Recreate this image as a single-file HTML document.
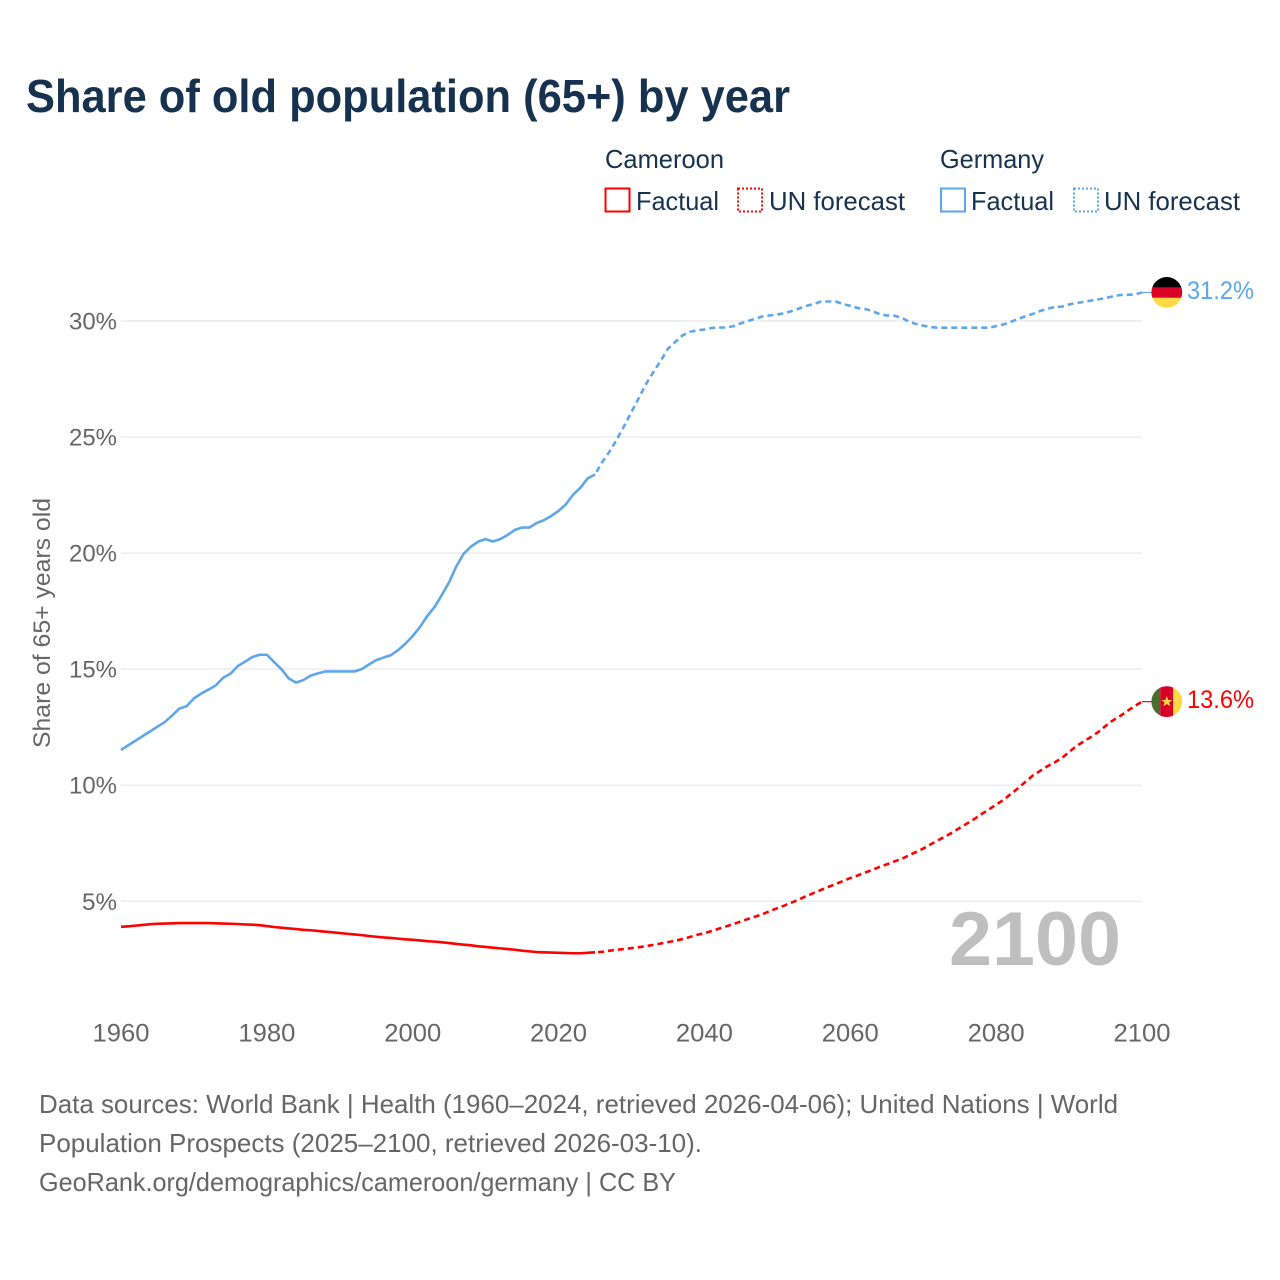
<!DOCTYPE html>
<html lang="en">
<head>
<meta charset="utf-8">
<title>Share of old population (65+) by year</title>
<style>
html,body{margin:0;padding:0;background:#fff;}
svg{display:block;font-family:"Liberation Sans",sans-serif;}
</style>
</head>
<body>
<svg id="chart" xmlns="http://www.w3.org/2000/svg" width="1280" height="1280" viewBox="0 0 1280 1280">
  <rect x="0" y="0" width="1280" height="1280" fill="#ffffff"/>
  <text x="26" y="112" font-size="46" font-weight="700" fill="#17324f" textLength="764" lengthAdjust="spacingAndGlyphs">Share of old population (65+) by year</text>

  <g font-size="26" fill="#17324f">
    <text x="605" y="168" textLength="119" lengthAdjust="spacingAndGlyphs">Cameroon</text>
    <rect x="605.5" y="188.5" width="24" height="23" fill="none" stroke="#ff0000" stroke-width="2"/>
    <text x="636" y="210" textLength="83" lengthAdjust="spacingAndGlyphs">Factual</text>
    <rect x="738" y="188.5" width="24" height="23" fill="none" stroke="#ff0000" stroke-width="2" stroke-dasharray="2 2"/>
    <text x="769" y="210" textLength="136" lengthAdjust="spacingAndGlyphs">UN forecast</text>
    <text x="940" y="168" textLength="104" lengthAdjust="spacingAndGlyphs">Germany</text>
    <rect x="941" y="188.5" width="24" height="23" fill="none" stroke="#5ea6ec" stroke-width="2"/>
    <text x="971" y="210" textLength="83" lengthAdjust="spacingAndGlyphs">Factual</text>
    <rect x="1074" y="188.5" width="24" height="23" fill="none" stroke="#5ea6ec" stroke-width="2" stroke-dasharray="2 2"/>
    <text x="1104" y="210" textLength="136" lengthAdjust="spacingAndGlyphs">UN forecast</text>
  </g>

  <g id="grid"></g>
  <g id="yticks" font-size="24" fill="#666666" text-anchor="end"></g>
  <g id="xticks" font-size="25" fill="#666666" text-anchor="middle"></g>
  <text transform="translate(50,623) rotate(-90)" font-size="24" fill="#666666" text-anchor="middle" textLength="250" lengthAdjust="spacingAndGlyphs">Share of 65+ years old</text>

  <text x="949" y="965" font-size="76" font-weight="700" fill="#bfbfbf" textLength="172" lengthAdjust="spacingAndGlyphs">2100</text>

  <g id="series"></g>

  <g id="flag-germany">
    <clipPath id="clip-de"><circle cx="0" cy="0" r="15.4"/></clipPath>
    <g clip-path="url(#clip-de)">
      <rect x="-16" y="-16" width="32" height="11" fill="#000000"/>
      <rect x="-16" y="-5" width="32" height="10.4" fill="#d80027"/>
      <rect x="-16" y="5.4" width="32" height="11" fill="#ffda44"/>
    </g>
  </g>
  <g id="flag-cameroon">
    <clipPath id="clip-cm"><circle cx="0" cy="0" r="15.4"/></clipPath>
    <g clip-path="url(#clip-cm)">
      <rect x="-16" y="-16" width="9.4" height="32" fill="#496e2d"/>
      <rect x="-6.6" y="-16" width="13" height="32" fill="#d80027"/>
      <rect x="6.4" y="-16" width="10" height="32" fill="#ffda44"/>
    </g>
    <polygon points="0,-5.5 1.5,-1.7 5.4,-1.7 2.3,0.8 3.4,4.6 0,2.4 -3.4,4.6 -2.3,0.8 -5.4,-1.7 -1.5,-1.7" fill="#ffda44"/>
  </g>
  <text id="label-germany" x="1187" font-size="25" fill="#5ea6ec" textLength="67" lengthAdjust="spacingAndGlyphs"></text>
  <text id="label-cameroon" x="1187" font-size="25" fill="#ff0000" textLength="67" lengthAdjust="spacingAndGlyphs"></text>

  <g font-size="26" fill="#666666">
    <text x="39" y="1113" textLength="1079" lengthAdjust="spacingAndGlyphs">Data sources: World Bank | Health (1960–2024, retrieved 2026-04-06); United Nations | World</text>
    <text x="39" y="1152" textLength="663" lengthAdjust="spacingAndGlyphs">Population Prospects (2025–2100, retrieved 2026-03-10).</text>
    <text x="39" y="1191" textLength="637" lengthAdjust="spacingAndGlyphs">GeoRank.org/demographics/cameroon/germany | CC BY</text>
  </g>
</svg>
<script>
const xTickYears = [1960, 1980, 2000, 2020, 2040, 2060, 2080, 2100];
const yTickValues = [5, 10, 15, 20, 25, 30];
const factualStartYear = 1960;
const forecastStartYear = 2025;
const germanyFactual = [
  11.52,11.72,11.92,12.12,12.32,12.52,12.72,13.0,13.3,13.4,
  13.74,13.95,14.12,14.3,14.63,14.8,15.13,15.32,15.52,15.62,
  15.62,15.3,15.0,14.6,14.42,14.53,14.72,14.82,14.9,14.9,
  14.9,14.9,14.9,15.0,15.2,15.39,15.5,15.6,15.82,16.1,
  16.43,16.82,17.29,17.68,18.2,18.75,19.44,19.98,20.28,20.5,
  20.6,20.5,20.6,20.78,21.0,21.1,21.1,21.3,21.42,21.6,
  21.82,22.1,22.52,22.82,23.22,23.39
];
const germanyForecast = [
  23.39,23.93,24.38,24.9,25.48,
  26.08,26.68,27.29,27.8,28.28,28.8,29.1,29.38,29.53,29.6,
  29.63,29.7,29.72,29.72,29.78,29.9,30.0,30.1,30.2,30.24,
  30.28,30.34,30.43,30.54,30.65,30.73,30.84,30.84,30.84,30.73,
  30.65,30.56,30.52,30.43,30.3,30.24,30.23,30.15,29.98,29.87,
  29.8,29.74,29.71,29.71,29.71,29.71,29.71,29.71,29.71,29.71,
  29.78,29.85,29.96,30.09,30.2,30.3,30.43,30.52,30.6,30.62,
  30.71,30.78,30.82,30.88,30.93,30.99,31.06,31.12,31.13,31.14,
  31.23
];
const cameroonFactual = [
  3.90,3.92,3.95,3.98,4.01,4.03,4.04,4.05,4.06,4.06,
  4.06,4.06,4.06,4.05,4.04,4.03,4.02,4.00,3.99,3.97,
  3.93,3.89,3.86,3.83,3.80,3.77,3.75,3.72,3.69,3.66,
  3.63,3.60,3.57,3.54,3.50,3.47,3.44,3.42,3.39,3.36,
  3.34,3.31,3.28,3.26,3.23,3.20,3.16,3.13,3.10,3.06,
  3.03,3.00,2.97,2.94,2.91,2.87,2.84,2.81,2.80,2.79,
  2.78,2.77,2.76,2.76,2.78,2.80
];
const cameroonForecast = [
  2.80,2.82,2.87,2.91,2.94,
  2.98,3.02,3.07,3.12,3.18,3.24,3.30,3.37,3.46,3.55,
  3.63,3.72,3.82,3.92,4.02,4.13,4.24,4.34,4.45,4.58,
  4.70,4.82,4.95,5.08,5.23,5.36,5.49,5.62,5.74,5.87,
  6.00,6.11,6.23,6.35,6.48,6.59,6.71,6.82,6.97,7.12,
  7.27,7.45,7.62,7.79,7.96,8.16,8.35,8.54,8.76,8.95,
  9.17,9.36,9.62,9.87,10.14,10.41,10.61,10.81,10.98,11.17,
  11.43,11.69,11.88,12.08,12.29,12.55,12.79,12.98,13.20,13.41,
  13.6
];

const NS = 'http://www.w3.org/2000/svg';
function xScale(year) { return 121 + (year - 1960) * (1142 - 121) / 140; }
function yScale(v) { return 321 + (30 - v) * 23.21; }
function linePath(values, startYear) {
  return values.map(function (v, i) {
    return (i ? 'L' : 'M') + xScale(startYear + i).toFixed(2) + ' ' + yScale(v).toFixed(2);
  }).join(' ');
}

const grid = document.getElementById('grid');
const yticks = document.getElementById('yticks');
yTickValues.forEach(function (v) {
  const gl = document.createElementNS(NS, 'line');
  
  
  gl.setAttribute('x1', 121);
  gl.setAttribute('x2', 1142);
  gl.setAttribute('y1', yScale(v));
  gl.setAttribute('y2', yScale(v));
  gl.setAttribute('stroke', '#e8e8e8');
  gl.setAttribute('stroke-width', '1.2');
  grid.appendChild(gl);
  const t = document.createElementNS(NS, 'text');
  
  
  t.setAttribute('x', 117);
  t.setAttribute('y', yScale(v) + 8.5);
  t.setAttribute('textLength', '48');
  t.setAttribute('lengthAdjust', 'spacingAndGlyphs');
  t.textContent = v + '%';
  if (v < 10) { t.setAttribute('textLength', '35'); }
  yticks.appendChild(t);
});

const xticks = document.getElementById('xticks');
xTickYears.forEach(function (yr) {
  const t = document.createElementNS(NS, 'text');
  
  
  t.setAttribute('x', xScale(yr));
  t.setAttribute('y', 1041.5);
  t.setAttribute('textLength', '57');
  t.setAttribute('lengthAdjust', 'spacingAndGlyphs');
  t.textContent = yr;
  xticks.appendChild(t);
});

const seriesGroup = document.getElementById('series');
function addLine(values, startYear, color, dashed, name) {
  const p = document.createElementNS(NS, 'path');
  
  
  p.setAttribute('d', linePath(values, startYear));
  p.setAttribute('fill', 'none');
  p.setAttribute('stroke', color);
  p.setAttribute('stroke-width', '2.6');
  p.setAttribute('stroke-linejoin', 'round');
  if (dashed) {
    p.setAttribute('stroke-dasharray', '6 4');
    p.setAttribute('stroke-dashoffset', '7');
  }
  seriesGroup.appendChild(p);
}
addLine(germanyFactual, factualStartYear, '#5ea6ec', false, 'germany-factual-line');
addLine(germanyForecast, forecastStartYear, '#5ea6ec', true, 'germany-forecast-line');
addLine(cameroonFactual, factualStartYear, '#ff0000', false, 'cameroon-factual-line');
addLine(cameroonForecast, forecastStartYear, '#ff0000', true, 'cameroon-forecast-line');

function addEnd(values, color, flagId, labelId, connectorName) {
  const last = values[values.length - 1];
  const y = yScale(last);
  const c = document.createElementNS(NS, 'line');
  
  
  c.setAttribute('x1', xScale(2100));
  c.setAttribute('x2', 1152);
  c.setAttribute('y1', y);
  c.setAttribute('y2', y);
  c.setAttribute('stroke', color);
  c.setAttribute('stroke-width', '1.2');
  seriesGroup.appendChild(c);
  document.getElementById(flagId).setAttribute('transform', 'translate(1166.8,' + y.toFixed(2) + ')');
  const lab = document.getElementById(labelId);
  lab.setAttribute('y', y + 6.5);
  lab.textContent = last.toFixed(1) + '%';
}
addEnd(germanyForecast, '#5ea6ec', 'flag-germany', 'label-germany', 'germany-flag-connector');
addEnd(cameroonForecast, '#ff0000', 'flag-cameroon', 'label-cameroon', 'cameroon-flag-connector');
</script>
</body>
</html>
